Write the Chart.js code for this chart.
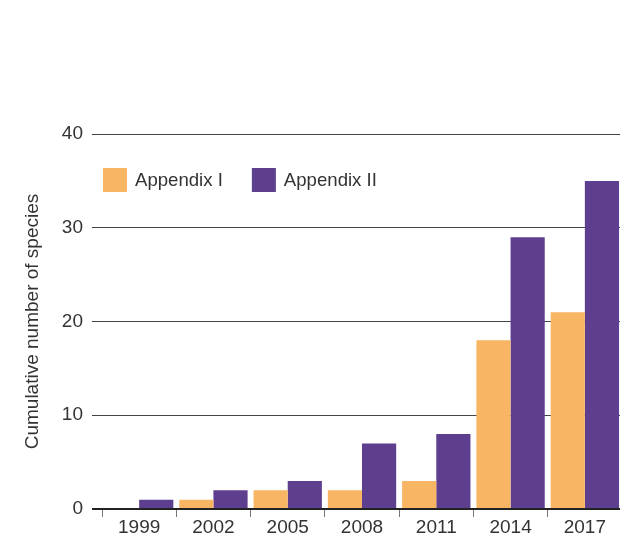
<!DOCTYPE html>
<html>
<head>
<meta charset="utf-8">
<style>
  html, body { margin: 0; padding: 0; background: #ffffff; overflow: hidden; }
  #c { display: block; }
</style>
<script src="https://cdn.jsdelivr.net/npm/chart.js@4/dist/chart.umd.min.js"></script>
</head>
<body>
<canvas id="c" width="622" height="538"></canvas>
<script>
const categories = ['1999', '2002', '2005', '2008', '2011', '2014', '2017'];
const appendixI = [0, 1, 2, 2, 3, 18, 21];
const appendixII = [1, 2, 3, 7, 8, 29, 35];
const seriesLabels = ['Appendix I', 'Appendix II'];
const yTitle = 'Cumulative number of species';

const FONT = '"Liberation Sans", Arial, Helvetica, sans-serif';
const TEXT = '#333333';

const insideLegend = {
  id: 'insideLegend',
  afterDraw(chart) {
    const ctx = chart.ctx;
    const area = chart.chartArea;
    const box = 24;
    const y = 168;
    let x = area.left + 1;
    ctx.save();
    ctx.font = '18.6px ' + FONT;
    ctx.textBaseline = 'middle';
    ctx.textAlign = 'left';
    chart.data.datasets.forEach(ds => {
      ctx.fillStyle = ds.backgroundColor;
      ctx.fillRect(x, y, box, box);
      ctx.fillStyle = TEXT;
      const tx = x + box + 8;
      ctx.fillText(ds.label, tx, y + box / 2 + 1);
      x = tx + ctx.measureText(ds.label).width + 29;
    });
    ctx.restore();
  }
};

new Chart(document.getElementById('c'), {
  type: 'bar',
  data: {
    labels: categories,
    datasets: [
      { label: seriesLabels[0], data: appendixI, backgroundColor: '#F8B564' },
      { label: seriesLabels[1], data: appendixII, backgroundColor: '#5E3E8F' }
    ]
  },
  options: {
    responsive: false,
    animation: false,
    devicePixelRatio: 1,
    layout: { padding: { top: 134, right: 0, bottom: 0, left: 0 } },
    datasets: { bar: { barPercentage: 1.0, categoryPercentage: 0.92 } },
    plugins: {
      legend: { display: false },
      tooltip: { enabled: false }
    },
    scales: {
      x: {
        border: { display: false },
        grid: {
          display: true,
          drawOnChartArea: false,
          drawTicks: true,
          tickLength: 8,
          offset: true,
          color: '#777777',
          lineWidth: 1
        },
        ticks: {
          color: TEXT,
          padding: 1,
          font: { family: FONT, size: 19, lineHeight: 1 }
        }
      },
      y: {
        min: 0,
        max: 40,
        border: { display: false },
        afterFit(scale) { scale.width = 102; },
        grid: {
          drawTicks: true,
          tickLength: 10,
          color: (c) => (c.tick && c.tick.value === 0) ? '#222222' : '#444444',
          lineWidth: (c) => (c.tick && c.tick.value === 0) ? 2 : 1
        },
        ticks: {
          stepSize: 10,
          color: TEXT,
          padding: 9,
          font: { family: FONT, size: 19 }
        },
        title: {
          display: true,
          text: yTitle,
          color: TEXT,
          padding: { top: 21, bottom: 0 },
          font: { family: FONT, size: 19 }
        }
      }
    }
  },
  plugins: [insideLegend]
});
</script>
</body>
</html>
